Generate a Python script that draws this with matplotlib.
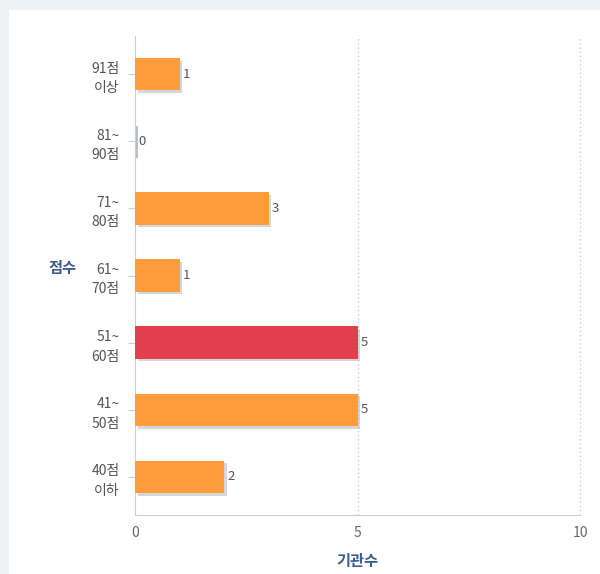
import matplotlib.pyplot as plt
import matplotlib.patheffects as pe
from matplotlib.patches import Rectangle

plt.rcParams['font.family'] = ['Noto Sans CJK KR', 'DejaVu Sans']

# data (top to bottom as in the chart)
categories = ["91점\n이상", "81~\n90점", "71~\n80점", "61~\n70점", "51~\n60점", "41~\n50점", "40점\n이하"]
counts = [1, 0, 3, 1, 5, 5, 2]
highlight = "51~\n60점"

orange = "#FF9D3D"
red = "#E2404E"
label_blue = "#3A5D8F"

fig = plt.figure(figsize=(6, 5.74), dpi=100)
fig.patch.set_facecolor("#EEF0F3")
fig.patches.append(Rectangle((9 / 600, 0), 1, 1 - 10 / 574, transform=fig.transFigure,
                             facecolor="white", edgecolor="none", zorder=-10))

ax = fig.add_axes([135 / 600, 1 - 515 / 574, 445 / 600, 479 / 574])
ax.set_facecolor("none")

ypos = list(range(len(categories)))[::-1]
colors = [red if c == highlight else orange for c in categories]
bars = ax.barh(ypos, counts, height=0.48, color=colors, zorder=3)
for b in bars:
    b.set_path_effects([pe.SimplePatchShadow(offset=(2, -2), shadow_rgbFace="#B8BCC4", alpha=0.6), pe.Normal()])

# zero-value bar marker
for y, v in zip(ypos, counts):
    if v == 0:
        ax.plot([0.03, 0.03], [y - 0.22, y + 0.22], color="#B8BCC4", lw=2, zorder=2)
    ax.text(v + 0.07, y, str(v), va="center", ha="left", fontsize=9.5, color="#555555")

ax.set_xlim(0, 10)
ax.set_ylim(-0.57, len(categories) - 0.43)
ax.set_xticks([0, 5, 10])
ax.set_yticks(ypos)
ax.set_yticklabels(categories, fontsize=10, color="#555555", linespacing=1.5)
ax.tick_params(axis="x", length=0, labelsize=10, labelcolor="#666666", pad=8)
ax.tick_params(axis="y", length=5, color="#C8CFDA", pad=6)
for xv in [5, 10]:
    ax.axvline(xv, linestyle=(0, (1, 2)), color="#CCCCCC", lw=1, zorder=1, clip_on=False)

for s in ["top", "right"]:
    ax.spines[s].set_visible(False)
for s in ["left", "bottom"]:
    ax.spines[s].set_color("#C8CFDA")

ax.set_xlabel("기관수", fontsize=11, fontweight="bold", color=label_blue, labelpad=9)
fig.text(62 / 600, 1 - 268 / 574, "점수", fontsize=11, fontweight="bold", color=label_blue,
         ha="center", va="center")

plt.savefig("out.png", dpi=100)
plt.close()
